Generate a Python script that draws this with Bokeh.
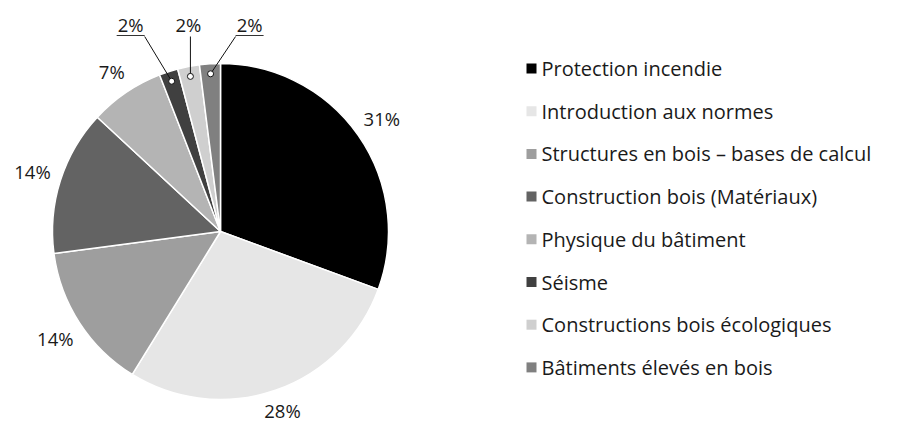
import numpy as np
from bokeh.plotting import figure
from bokeh.models import Range1d, ColumnDataSource
from bokeh.core.properties import value
from bokeh.embed import file_html
from bokeh.resources import INLINE

# ---- data ----
categories = [
    "Protection incendie",
    "Introduction aux normes",
    "Structures en bois – bases de calcul",
    "Construction bois (Matériaux)",
    "Physique du bâtiment",
    "Séisme",
    "Constructions bois écologiques",
    "Bâtiments élevés en bois",
]
shares = [30.6, 28.2, 14.1, 14.0, 7.2, 1.8, 2.1, 2.0]
colors = ["#000000", "#e6e6e6", "#9e9e9e", "#636363", "#b4b4b4", "#404040", "#cfcfcf", "#808080"]
callout = [False, False, False, False, False, True, True, True]

# ---- layout (screen pixels; data y = 423 - screen y) ----
W, H = 902, 423
FONT = "Open Sans"
TXT = "#1a1a1a"
cx, cy, R = 220, 423 - 231, 168

p = figure(width=W, height=H, x_range=Range1d(0, W), y_range=Range1d(0, H),
           output_backend="svg", toolbar_location=None, min_border=0,
           x_axis_location=None, y_axis_location=None)
p.grid.visible = False
p.outline_line_color = None

vals = np.array(shares, dtype=float)
frac = vals / vals.sum()
cum = np.concatenate([[0.0], np.cumsum(frac)])
start = np.pi / 2 - 2 * np.pi * cum[:-1]
end = np.pi / 2 - 2 * np.pi * cum[1:]
mid = 2 * np.pi * (cum[:-1] + cum[1:]) / 2  # clockwise from top
labels = [f"{round(v)}%" for v in frac * 100]

src = ColumnDataSource(dict(start=start, end=end, color=colors))
p.wedge(x=cx, y=cy, radius=R, start_angle="start", end_angle="end", direction="clock",
        fill_color="color", line_color="white", line_width=1.5, source=src)

# outside labels
lx, ly, lt = [], [], []
w_lab, h_lab, gap = 40, 15, 8
for i in range(len(vals)):
    if callout[i]:
        continue
    s, c = np.sin(mid[i]), np.cos(mid[i])
    r = R + gap + abs(s) * w_lab / 2 + abs(c) * h_lab / 2
    lx.append(cx + r * s)
    ly.append(cy + r * c)
    lt.append(labels[i])
p.text(x=lx, y=ly, text=lt, text_align="center", text_baseline="middle",
       text_font=value(FONT), text_font_size="18.5px", text_color=TXT)

# callout labels for small slices
label_dx = [-41, -2, 39]   # label offset from the dot
lead_dx = [14, 2, -14]     # where the leader meets the label
under = [True, False, True]
dot_r = 158
label_y = 423 - 24
lead_y = 423 - 36
k = 0
dxs, dys, cx_l, cy_l, ctext = [], [], [], [], []
for i in range(len(vals)):
    if not callout[i]:
        continue
    s, c = np.sin(mid[i]), np.cos(mid[i])
    dx, dy = cx + dot_r * s, cy + dot_r * c
    tx = dx + label_dx[k]
    ex = tx + lead_dx[k]
    p.line([dx, ex], [dy, lead_y], line_color="#111111", line_width=1)
    if under[k]:
        p.line([tx - 14, tx + 14], [lead_y + 1, lead_y + 1], line_color="#333333", line_width=1)
    dxs.append(dx); dys.append(dy)
    cx_l.append(tx); cy_l.append(label_y); ctext.append(labels[i])
    k += 1
p.scatter(x=dxs, y=dys, marker="circle", size=6, fill_color="white", line_color="#111111", line_width=1)
p.text(x=cx_l, y=cy_l, text=ctext, text_align="center", text_baseline="middle",
       text_font=value(FONT), text_font_size="18.5px", text_color=TXT)

# legend
row0, step = 68, 42.7
ys = [423 - (row0 + step * i) for i in range(len(categories))]
p.rect(x=[531] * len(categories), y=ys, width=10, height=10, fill_color=colors, line_color=None)
p.text(x=[541] * len(categories), y=ys, text=categories, text_align="left", text_baseline="middle",
       text_font=value(FONT), text_font_size="20px", text_color=TXT)

open("out.html", "w").write(file_html(p, INLINE))
